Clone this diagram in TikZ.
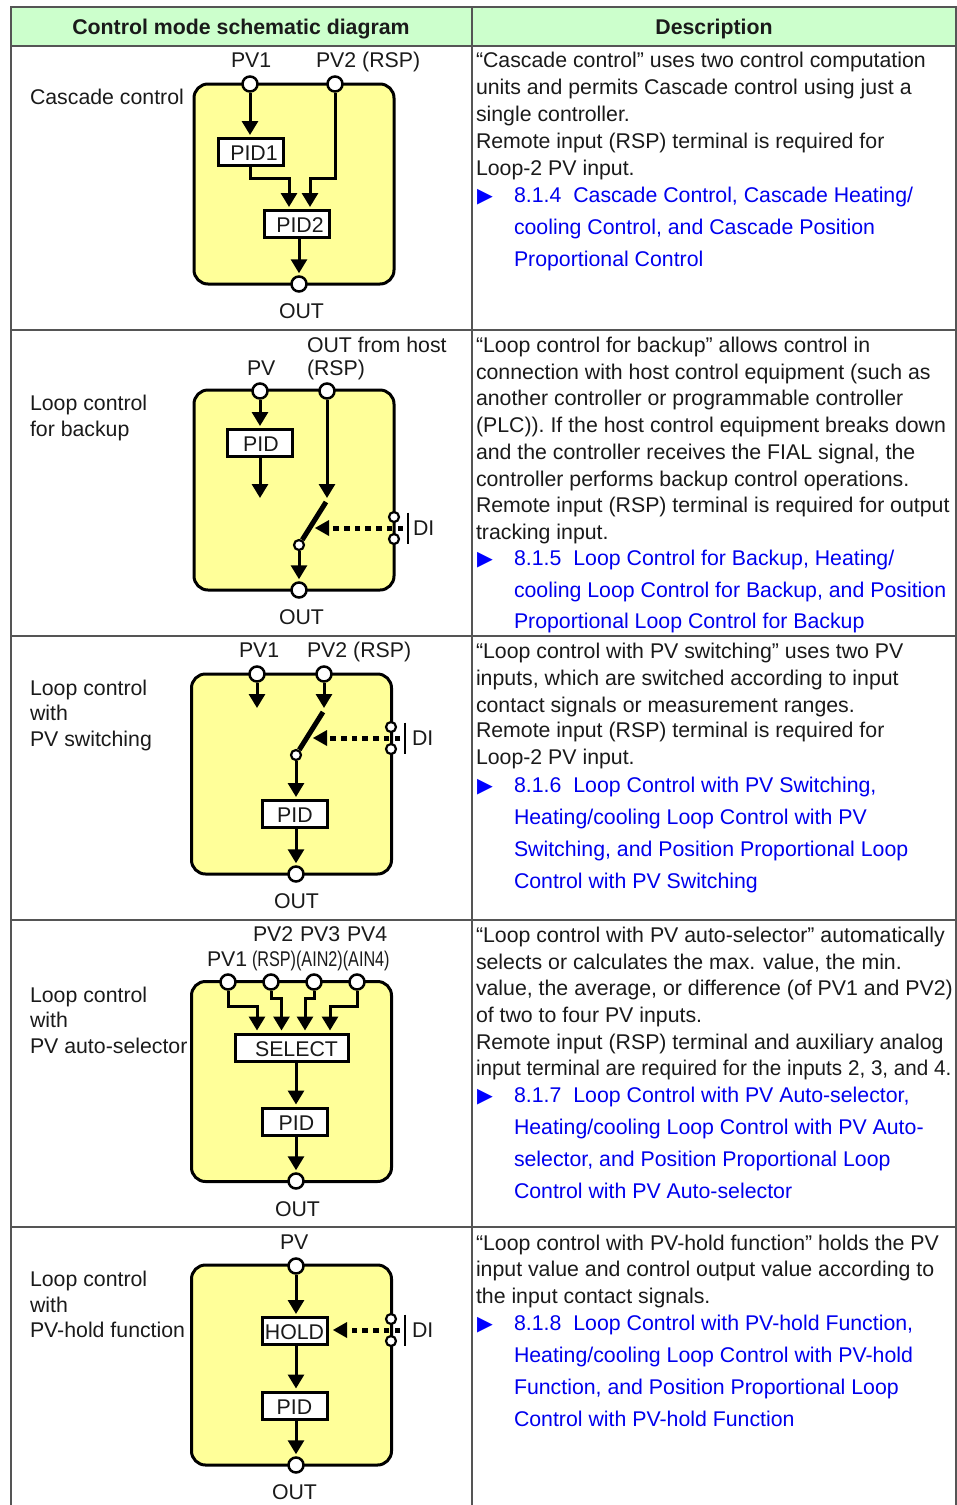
\documentclass[tikz,border=0pt]{standalone}
\usepackage{fontspec}
\setmainfont{Liberation Sans}
\newfontfamily\symfont{DejaVu Sans}
\usetikzlibrary{arrows.meta,calc}
\definecolor{hdr}{HTML}{CCFFCC}
\definecolor{pan}{HTML}{FFFF99}
\definecolor{grid}{HTML}{555555}
\definecolor{lnk}{HTML}{0000EE}
\definecolor{ink}{HTML}{1A1A1A}
\newcounter{tn}
\newcommand{\tx}[3]{\stepcounter{tn}\node[lab] (t\thetn) at (#1,#2+7.3) {#3};}
\newcommand{\lk}[3]{\stepcounter{tn}\node[lab,text=lnk] (t\thetn) at (#1,#2+7.3) {#3};}
\newcommand{\bul}[1]{\stepcounter{tn}\node[lab,text=blue] (t\thetn) at (477,#1+7) {\symfont\fontsize{20.5}{20.5}\selectfont ▶};}
\newcommand{\panel}[3]{\node[panel] (#1) at (#2,#3) {};}
\newcommand{\DI}[7]{% prefix, x, y, barx, textx, dash-end x, tip x
  \node[smallc] (#1u) at (#2,#3-11) {};
  \node[smallc] (#1d) at (#2,#3+11) {};
  \coordinate (#1bt) at (#4,#3-15.5);
  \coordinate (#1bb) at (#4,#3+15.5);
  \draw[dibar] (#1bt) -- (#1bb);
  \coordinate (#1m) at (#4-5,#3);
  \coordinate (#1e) at (#6,#3);
  \coordinate (#1tip) at (#7,#3);
  \draw[dots] (#1m) -- (#1e);
  \fill[black] (#1tip) -- ($(#1tip)+(14,-8)$) -- ($(#1tip)+(14,8)$) -- cycle;
  \tx{#5}{#3}{DI}
}
\tikzset{
  x=1pt,y=-1pt,
  lab/.style={anchor=base west,inner sep=0pt,outer sep=0pt,font=\fontsize{21.3}{21.3}\selectfont,text=ink},
  hd/.style={anchor=base,inner sep=0pt,font=\fontsize{21.3}{21.3}\selectfont\bfseries,text=ink},
  panel/.style={draw=black,fill=pan,line width=3pt,rounded corners=14pt,minimum width=200pt,minimum height=200pt,inner sep=0pt},
  term/.style={circle,draw=black,fill=white,line width=2.5pt,minimum size=15pt,inner sep=0pt},
  smallc/.style={circle,draw=black,fill=white,line width=2.2pt,minimum size=10pt,inner sep=0pt},
  boxn/.style={draw=black,fill=white,line width=3pt,minimum height=27pt,minimum width=65pt,inner sep=0pt,font=\fontsize{21.3}{21.3}\selectfont,text=ink,text height=17pt,text depth=0pt},
  flow/.style={line width=3pt,draw=black,-{Triangle[length=14pt,width=16pt]},shorten >=2pt},
  swbar/.style={line width=5pt,draw=black},
  dots/.style={line width=5pt,draw=black,dash pattern=on 5.5pt off 5.2pt},
  dibar/.style={line width=2.5pt,draw=black},
  rule/.style={draw=grid,line width=2pt},
}
\begin{document}
\begin{tikzpicture}
\useasboundingbox (0,0) rectangle (957,1505);
% table
\fill[hdr] (11,7) rectangle (956,46);
\coordinate (gTL) at (11,7); \coordinate (gTR) at (956,7);
\coordinate (gBL) at (11,1505); \coordinate (gBR) at (956,1505);
\coordinate (gTM) at (472,7); \coordinate (gBM) at (472,1505);
\draw[rule] (gBL) -- (gTL) -- (gTR) -- (gBR);
\draw[rule] (gTM) -- (gBM);
\foreach \r [count=\i] in {46,330,636,920,1227}{
  \coordinate (rl\i) at (11,\r); \coordinate (rr\i) at (956,\r);
  \draw[rule] (rl\i) -- (rr\i);
}
\node[hd] (h1) at (241,34.5) {Control mode schematic diagram};
\node[hd] (h2) at (714,34.5) {Description};

% ---- Cascade
\panel{pa}{294}{184}
\node[term] (a1) at (250,84) {};
\node[term] (a2) at (335,84) {};
\node[term] (a3) at (299,284) {};
\node[boxn] (ap1) at (251,152) {\kern6pt PID1};
\node[boxn] (ap2) at (297,224) {\kern6pt PID2};
\coordinate (ab1) at (250,178); \coordinate (ab2) at (289,178);
\coordinate (ab3) at (335,178); \coordinate (ab4) at (310,178);
\draw[flow] (a1) -- (a1 |- ap1.north);
\draw[flow] (ab1 |- ap1.south) -- (ab1) -- (ab2) -- (ab2 |- ap2.north);
\draw[flow] (a2) -- (ab3) -- (ab4) -- (ab4 |- ap2.north);
\draw[flow] (ap2.south -| a3) -- (a3);
\tx{231}{60}{PV1} \tx{316}{60}{PV2 (RSP)} \tx{30}{97}{Cascade control} \tx{279}{311}{OUT}

% ---- Backup
\panel{pb}{294}{490}
\node[term] (b1) at (260,391) {};
\node[term] (b2) at (327,391) {};
\node[term] (b3) at (299,590) {};
\node[boxn] (bp) at (260,443) {\kern2pt PID};
\coordinate (bf) at (260,500); \coordinate (bg) at (327,500);
\node[smallc] (bs) at (299,545) {};
\coordinate (bst) at (326,502);
\draw[flow] (b1) -- (b1 |- bp.north);
\draw[flow] (bp.south -| bf) -- (bf);
\draw[flow] (b2) -- (bg);
\draw[swbar] (bs) -- (bst);
\draw[flow] (bs) -- (b3);
\DI{bd}{394}{528}{408}{413}{333}{315}
\tx{247}{368}{PV} \tx{307}{345}{OUT from host} \tx{307}{368}{(RSP)} \tx{279}{617}{OUT}
\tx{30}{403}{Loop control} \tx{30}{429}{for backup}

% ---- PV switching
\panel{pc}{291.5}{774}
\node[term] (c1) at (257,674) {};
\node[term] (c2) at (324,674) {};
\node[term] (c3) at (296,874) {};
\node[smallc] (cs) at (296,755) {};
\coordinate (cst) at (323,712);
\coordinate (cf) at (257,710); \coordinate (cg) at (324,710);
\node[boxn] (cp) at (295,814) {PID};
\draw[flow] (c1) -- (cf);
\draw[flow] (c2) -- (cg);
\draw[swbar] (cs) -- (cst);
\draw[flow] (cs) -- (cs |- cp.north);
\draw[flow] (cp.south -| c3) -- (c3);
\DI{cd}{391}{738}{405}{412}{330}{313}
\tx{239}{650}{PV1} \tx{307}{650}{PV2 (RSP)} \tx{274}{901}{OUT}
\tx{30}{688}{Loop control} \tx{30}{713}{with} \tx{30}{739}{PV switching}

% ---- Auto-selector
\panel{pd}{291.5}{1081.5}
\node[term] (d1) at (228,982) {};
\node[term] (d2) at (271,982) {};
\node[term] (d3) at (314,982) {};
\node[term] (d4) at (357,982) {};
\node[term] (d5) at (296,1181) {};
\node[boxn,minimum width=113pt] (ds) at (292,1047.5) {\kern9pt SELECT};
\node[boxn] (dp) at (295,1121.5) {\kern3pt PID};
\coordinate (dx1) at (257,1006); \coordinate (dx2) at (281.5,998);
\coordinate (dx3) at (305,998); \coordinate (dx4) at (330,1006);
\draw[flow] (d1) -- (d1 |- dx1) -- (dx1) -- (dx1 |- ds.north);
\draw[flow] (d2) -- (d2 |- dx2) -- (dx2) -- (dx2 |- ds.north);
\draw[flow] (d3) -- (d3 |- dx3) -- (dx3) -- (dx3 |- ds.north);
\draw[flow] (d4) -- (d4 |- dx4) -- (dx4) -- (dx4 |- ds.north);
\draw[flow] (ds.south -| d5) -- (d5 |- dp.north);
\draw[flow] (dp.south -| d5) -- (d5);
\tx{253}{934}{PV2} \tx{300}{934}{PV3} \tx{347}{934}{PV4} \tx{207}{959}{PV1}
\tx{252}{959}{\scalebox{0.76}[1]{(RSP)(AIN2)(AIN4)}}
\tx{275}{1209}{OUT}
\tx{30}{995}{Loop control} \tx{30}{1020}{with} \tx{30}{1046}{PV auto-selector}

% ---- PV-hold
\panel{pe}{291.5}{1365}
\node[term] (e1) at (296,1266) {};
\node[term] (e2) at (296,1465) {};
\node[boxn] (eh) at (294.5,1331) {HOLD};
\node[boxn] (ep) at (294.5,1405.5) {PID};
\draw[flow] (e1) -- (e1 |- eh.north);
\draw[flow] (eh.south -| e1) -- (e1 |- ep.north);
\draw[flow] (ep.south -| e1) -- (e2);
\DI{ed}{391}{1330}{405}{412}{352}{333}
\tx{280}{1242}{PV} \tx{272}{1492}{OUT}
\tx{30}{1279}{Loop control} \tx{30}{1305}{with} \tx{30}{1330}{PV-hold function}

% ---- descriptions
\tx{476}{60}{“Cascade control” uses two control computation}
\tx{476}{87}{units and permits Cascade control using just a}
\tx{476}{114}{single controller.}
\tx{476}{141}{Remote input (RSP) terminal is required for}
\tx{476}{168}{Loop-2 PV input.}
\bul{195}
\lk{514}{195}{8.1.4\hspace{12pt}Cascade Control, Cascade Heating/}
\lk{514}{227}{cooling Control, and Cascade Position}
\lk{514}{259}{Proportional Control}

\tx{476}{345}{“Loop control for backup” allows control in}
\tx{476}{372}{connection with host control equipment (such as}
\tx{476}{398}{another controller or programmable controller}
\tx{476}{425}{(PLC)). If the host control equipment breaks down}
\tx{476}{452}{and the controller receives the FIAL signal, the}
\tx{476}{479}{controller performs backup control operations.}
\tx{476}{505}{Remote input (RSP) terminal is required for output}
\tx{476}{532}{tracking input.}
\bul{558}
\lk{514}{558}{8.1.5\hspace{12pt}Loop Control for Backup, Heating/}
\lk{514}{590}{cooling Loop Control for Backup, and Position}
\lk{514}{621}{Proportional Loop Control for Backup}

\tx{476}{651}{“Loop control with PV switching” uses two PV}
\tx{476}{678}{inputs, which are switched according to input}
\tx{476}{705}{contact signals or measurement ranges.}
\tx{476}{730}{Remote input (RSP) terminal is required for}
\tx{476}{757}{Loop-2 PV input.}
\bul{785}
\lk{514}{785}{8.1.6\hspace{12pt}Loop Control with PV Switching,}
\lk{514}{817}{Heating/cooling Loop Control with PV}
\lk{514}{849}{Switching, and Position Proportional Loop}
\lk{514}{881}{Control with PV Switching}

\tx{476}{935}{“Loop control with PV auto-selector” automatically}
\tx{476}{962}{selects or calculates the max. value, the min.}
\tx{476}{988}{value, the average, or difference (of PV1 and PV2)}
\tx{476}{1015}{of two to four PV inputs.}
\tx{476}{1042}{Remote input (RSP) terminal and auxiliary analog}
\tx{476}{1068}{\scalebox{0.97}[1]{input terminal are required for the inputs 2, 3, and 4.}}
\bul{1095}
\lk{514}{1095}{8.1.7\hspace{12pt}Loop Control with PV Auto-selector,}
\lk{514}{1127}{Heating/cooling Loop Control with PV Auto-}
\lk{514}{1159}{selector, and Position Proportional Loop}
\lk{514}{1191}{Control with PV Auto-selector}

\tx{476}{1243}{“Loop control with PV-hold function” holds the PV}
\tx{476}{1269}{input value and control output value according to}
\tx{476}{1296}{the input contact signals.}
\bul{1323}
\lk{514}{1323}{8.1.8\hspace{12pt}Loop Control with PV-hold Function,}
\lk{514}{1355}{Heating/cooling Loop Control with PV-hold}
\lk{514}{1387}{Function, and Position Proportional Loop}
\lk{514}{1419}{Control with PV-hold Function}
\end{tikzpicture}
\end{document}
